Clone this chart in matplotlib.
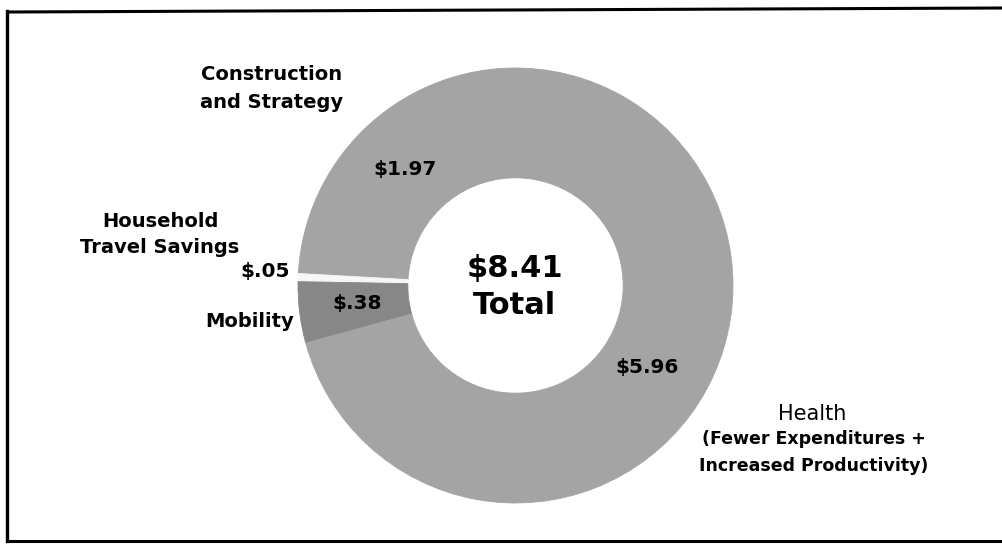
import matplotlib
matplotlib.use("Agg")
import matplotlib.pyplot as plt

# Data
categories = ["Construction\nand Strategy", "Household\nTravel Savings", "Mobility",
              "Health\n(Fewer Expenditures +\nIncreased Productivity)"]
values = [1.97, 0.05, 0.38, 5.96]
value_labels = ["$1.97", "$.05", "$.38", "$5.96"]
total_label = ["$8.41", "Total"]

W, H = 1003, 544
fig = plt.figure(figsize=(W / 100, H / 100), dpi=100)
fig.patch.set_facecolor("white")

# pie axes (center ~ (515,285) px, radius ~217 px)
cx, cy, r = 515.5, 285.5, 217.5
ax = fig.add_axes([(cx - r) / W, (H - cy - r) / H, 2 * r / W, 2 * r / H])
colors = ["#a4a4a4", "#f6f6f6", "#878787", "#a4a4a4"]
wedges, _ = ax.pie(values, colors=colors, startangle=92, counterclock=True,
                   radius=1.0, wedgeprops=dict(width=0.505, linewidth=0))
for w, c in zip(wedges, colors):
    w.set_edgecolor(c)
    w.set_linewidth(0.6)
ax.set_xlim(-1, 1)
ax.set_ylim(-1, 1)
ax.set_aspect("equal")
ax.axis("off")

# overlay axes in pixel coords
ov = fig.add_axes([0, 0, 1, 1], facecolor="none")
ov.set_xlim(0, W)
ov.set_ylim(H, 0)
ov.axis("off")

font = "DejaVu Sans"
# frame lines
ov.plot([7, W], [12, 8], color="black", lw=2.2, solid_capstyle="butt")
ov.plot([7, 7], [11, 541], color="black", lw=2.4)
ov.plot([7, W], [541, 541], color="black", lw=2.2)

lab = dict(family=font, fontweight="bold", fontsize=14, color="black")

# category labels (line by line)
c0 = categories[0].split("\n")
ov.text(272, 80, c0[0], ha="center", va="baseline", **lab)
ov.text(272, 108, c0[1], ha="center", va="baseline", **lab)
c1 = categories[1].split("\n")
ov.text(160, 227, c1[0], ha="center", va="baseline", **lab)
ov.text(160, 253, c1[1], ha="center", va="baseline", **lab)
ov.text(294, 327, categories[2], ha="right", va="baseline", **lab)
c3 = categories[3].split("\n")
ov.text(812, 420, c3[0], ha="center", va="baseline", family=font, fontsize=15,
        color="black")
ov.text(814, 444, c3[1], ha="center", va="baseline", family=font,
        fontweight="bold", fontsize=12.5, color="black")
ov.text(814, 471, c3[2], ha="center", va="baseline", family=font,
        fontweight="bold", fontsize=12.5, color="black")

# value labels
val = dict(family=font, fontweight="heavy", fontsize=14.5, color="black",
           ha="center", va="center")
ov.text(405, 170, value_labels[0], **val)
ov.text(265, 271, value_labels[1], **val)
ov.text(357, 304, value_labels[2], **val)
ov.text(647, 367, value_labels[3], **val)

# total
ov.text(515, 268, total_label[0], ha="center", va="center", fontsize=22,
        fontweight="bold", family=font)
ov.text(515, 306, total_label[1], ha="center", va="center", fontsize=22,
        fontweight="bold", family=font)

fig.savefig("out.png", dpi=100, facecolor="white")
